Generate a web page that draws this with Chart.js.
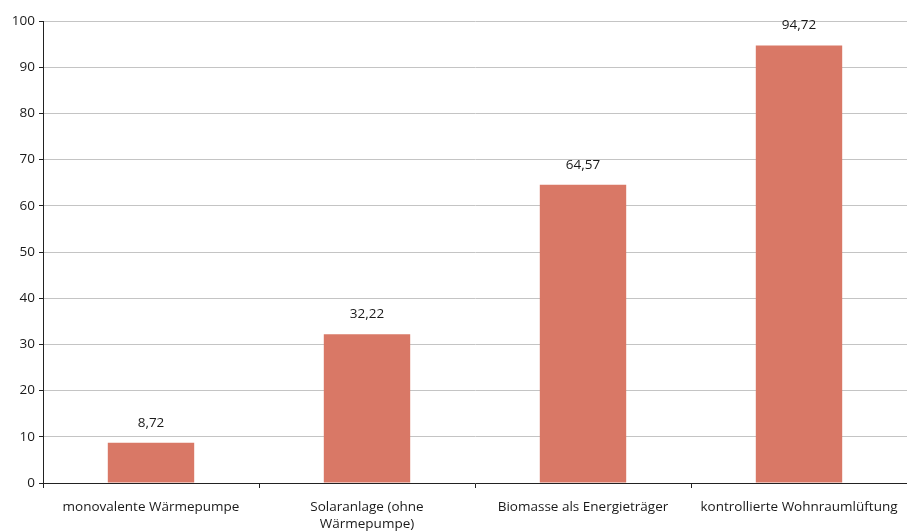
<!DOCTYPE html>
<html>
<head>
<meta charset="utf-8">
<script src="https://cdn.jsdelivr.net/npm/chart.js@4"></script>
<style>
  html, body { margin: 0; padding: 0; background: #fff; }
  #wrap { width: 907px; height: 532px; }
</style>
</head>
<body>
<div id="wrap"><canvas id="myChart" width="907" height="532"></canvas></div>
<script>
const categories = [
    'monovalente Wärmepumpe',
    ['Solaranlage (ohne', 'Wärmepumpe)'],
    'Biomasse als Energieträger',
    'kontrollierte Wohnraumlüftung'
];
const values = [8.72, 32.22, 64.57, 94.72];
const yTicks = [0, 10, 20, 30, 40, 50, 60, 70, 80, 90, 100];

const fontFamily = '"Open Sans", "Noto Sans", sans-serif';
const textColor = '#1a1a1a';

// Werte über den Balken
const valueLabels = {
    id: 'valueLabels',
    afterDatasetsDraw(chart) {
        const ctx = chart.ctx;
        const meta = chart.getDatasetMeta(0);
        ctx.save();
        ctx.font = '13.5px ' + fontFamily;
        ctx.fillStyle = textColor;
        ctx.textAlign = 'center';
        ctx.textBaseline = 'middle';
        meta.data.forEach((bar, i) => {
            const txt = values[i].toFixed(2).replace('.', ',');
            ctx.fillText(txt, bar.x, bar.y - 20);
        });
        ctx.restore();
    }
};

const ctx = document.getElementById('myChart').getContext('2d');
new Chart(ctx, {
    type: 'bar',
    data: {
        labels: categories,
        datasets: [{
            data: values,
            backgroundColor: '#d97866',
            barPercentage: 0.4,
            categoryPercentage: 1
        }]
    },
    options: {
        responsive: false,
        animation: false,
        layout: { padding: { top: 21, right: 0, left: 0, bottom: 0 } },
        plugins: {
            legend: { display: false },
            tooltip: { enabled: false }
        },
        scales: {
            x: {
                afterFit: s => {
                    s.height = 49;
                    s.paddingLeft = 0;
                    s.paddingRight = 0;
                },
                grid: {
                    drawOnChartArea: false,
                    tickLength: 5,
                    tickColor: '#222'
                },
                border: { color: '#222', width: 1 },
                ticks: {
                    color: textColor,
                    font: { family: fontFamily, size: 13.5, lineHeight: 1.3 },
                    padding: 10,
                    maxRotation: 0,
                    autoSkip: false
                }
            },
            y: {
                min: 0,
                max: 100,
                afterFit: s => {
                    s.width = 43;
                    s.paddingTop = 0;
                    s.paddingBottom = 0;
                },
                afterBuildTicks: s => { s.ticks = yTicks.map(v => ({ value: v })); },
                grid: {
                    color: '#c4c4c4',
                    tickLength: 4,
                    tickColor: '#222'
                },
                border: { color: '#222', width: 1 },
                ticks: {
                    color: textColor,
                    font: { family: fontFamily, size: 13.5 },
                    padding: 4
                }
            }
        }
    },
    plugins: [valueLabels]
});
</script>
</body>
</html>
